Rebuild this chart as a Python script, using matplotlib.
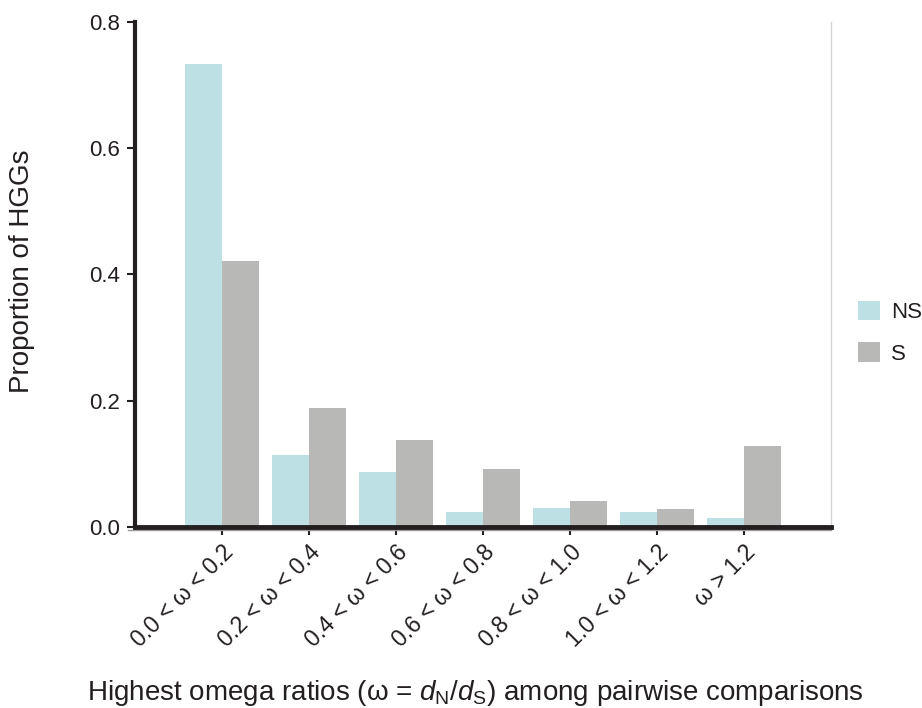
import matplotlib.pyplot as plt
import numpy as np
from matplotlib.lines import Line2D

plt.rcParams['font.family'] = ['Liberation Sans', 'DejaVu Sans']
plt.rcParams['mathtext.fontset'] = 'custom'
plt.rcParams['mathtext.rm'] = 'Liberation Sans'
plt.rcParams['mathtext.it'] = 'Liberation Sans:italic'

categories = ['0.0 < ω < 0.2', '0.2 < ω < 0.4', '0.4 < ω < 0.6', '0.6 < ω < 0.8',
              '0.8 < ω < 1.0', '1.0 < ω < 1.2', 'ω > 1.2']
ns_values = [0.734, 0.114, 0.087, 0.024, 0.030, 0.024, 0.014]
s_values = [0.421, 0.189, 0.138, 0.092, 0.041, 0.029, 0.129]

ns_color = '#bce0e3'
s_color = '#b8b8b7'
dark = '#231f20'

fig = plt.figure(figsize=(9.22, 7.08), dpi=100)
ax = fig.add_axes([0.1464, 0.2557, 0.7549, 0.7133])

x = np.arange(len(categories))
w = 0.43
ax.bar(x - w / 2, ns_values, w, color=ns_color, label='NS')
ax.bar(x + w / 2, s_values, w, color=s_color, label='S')

ax.set_xlim(-1, 7)
ax.set_ylim(0, 0.8)
ax.set_yticks([0.0, 0.2, 0.4, 0.6, 0.8])
ax.set_yticklabels(['0.0', '0.2', '0.4', '0.6', '0.8'])
ax.set_xticks(x)
ax.set_xticklabels(categories, rotation=45, ha='right', rotation_mode='anchor')

ax.spines['top'].set_visible(False)
ax.spines['right'].set_color('#d4d4d4')
ax.spines['right'].set_linewidth(1)
ax.spines['left'].set_linewidth(3)
ax.spines['left'].set_color(dark)
ax.spines['bottom'].set_linewidth(3.5)
ax.spines['bottom'].set_color(dark)

# thin gray line under the x axis
ax.add_line(Line2D([-0.01, 1.0], [-0.007, -0.007], transform=ax.transAxes,
                   color='#999999', lw=1, clip_on=False))

ax.tick_params(axis='y', labelsize=16, length=6, width=1.5, color=dark,
               pad=5, labelcolor=dark)
ax.tick_params(axis='x', labelsize=16.5, length=6, width=1.5, color=dark,
               pad=4, labelcolor=dark)

fig.text(22 / 922, 0.617, 'Proportion of HGGs', rotation=90, ha='center', va='center',
         fontsize=20, color=dark)
fig.text(0.516, 0.021, r'Highest omega ratios (ω = $d_{\mathrm{N}}/d_{\mathrm{S}}$) among pairwise comparisons',
         ha='center', va='center', fontsize=20, color=dark)

leg = ax.legend(loc='center left', bbox_to_anchor=(1.01, 0.385), frameon=False,
                fontsize=16, handlelength=1.0, handleheight=1.0, labelspacing=0.85,
                handletextpad=0.5)
for t in leg.get_texts():
    t.set_color(dark)

fig.savefig('out.png', dpi=100)
